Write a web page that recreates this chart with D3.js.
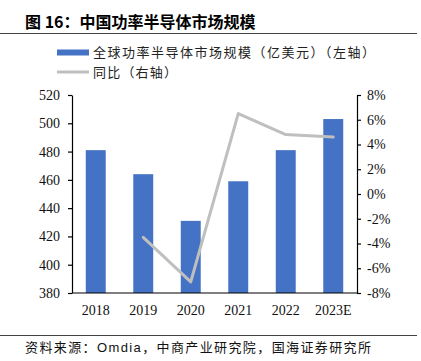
<!DOCTYPE html>
<html>
<head>
<meta charset="utf-8">
<script src="https://cdn.jsdelivr.net/npm/d3@7"></script>
<style>
  body { margin: 0; background: #fff; }
  svg { display: block; }
</style>
</head>
<body>
<div id="chart"></div>
<script>
// data
var years = ["2018", "2019", "2020", "2021", "2022", "2023E"];
var marketSize = [481, 464, 431, 459, 481, 503];   // 亿美元, left axis
var yoy = [null, -3.5, -7.1, 6.5, 4.8, 4.6];       // %, right axis
var leftTicks = [380, 400, 420, 440, 460, 480, 500, 520];
var rightTicks = [-8, -6, -4, -2, 0, 2, 4, 6, 8];

var W = 421, H = 361;
var cjk = "'Noto Sans CJK SC', sans-serif";
var serif = "'Liberation Serif', 'DejaVu Serif', serif";

var svg = d3.select("#chart").append("svg")
    .attr("width", W)
    .attr("height", H);

// title + rule
svg.append("text")
    .attr("x", 25)
    .attr("y", 28)
    .style("font-family", cjk)
    .style("font-weight", "bold")
    .style("font-size", "16px")
    .style("fill", "#000")
    .text("图 16：中国功率半导体市场规模");

svg.append("line")
    .attr("x1", 0).attr("x2", 417)
    .attr("y1", 33.5).attr("y2", 33.5)
    .style("stroke", "#444")
    .style("stroke-width", 1.2);

// legend
var leg = svg.append("g");
leg.append("rect")
    .attr("x", 57).attr("y", 49.5)
    .attr("width", 32).attr("height", 6)
    .style("fill", "#4472C4");
leg.append("text")
    .attr("x", 93).attr("y", 57)
    .attr("textLength", 282)
    .attr("lengthAdjust", "spacing")
    .style("font-family", cjk)
    .style("font-size", "13px")
    .style("fill", "#222")
    .text("全球功率半导体市场规模（亿美元）（左轴）");
leg.append("line")
    .attr("x1", 57).attr("x2", 89)
    .attr("y1", 72).attr("y2", 72)
    .style("stroke", "#BFBFBF")
    .style("stroke-width", 3);
leg.append("text")
    .attr("x", 93).attr("y", 77)
    .attr("textLength", 84)
    .attr("lengthAdjust", "spacing")
    .style("font-family", cjk)
    .style("font-size", "13px")
    .style("fill", "#222")
    .text("同比（右轴）");

// plot area
var plotL = 72, plotR = 357, plotT = 95, plotB = 293;

var x = d3.scaleBand()
    .domain(years)
    .range([plotL, plotR])
    .paddingInner(0.58)
    .paddingOuter(0.29);

var yL = d3.scaleLinear().domain([380, 520]).range([plotB, plotT]);
var yR = d3.scaleLinear().domain([-8, 8]).range([plotB, plotT]);

svg.selectAll(".bar")
    .data(marketSize)
    .enter().append("rect")
    .attr("class", "bar")
    .attr("x", function(d, i) { return x(years[i]); })
    .attr("width", x.bandwidth())
    .attr("y", function(d) { return yL(d); })
    .attr("height", function(d) { return plotB - yL(d); })
    .style("fill", "#4472C4");

var line = d3.line()
    .defined(function(d) { return d != null; })
    .x(function(d, i) { return x(years[i]) + x.bandwidth() / 2; })
    .y(function(d) { return yR(d); });

svg.append("path")
    .datum(yoy)
    .attr("d", line)
    .style("fill", "none")
    .style("stroke", "#BFBFBF")
    .style("stroke-width", 3)
    .style("stroke-linejoin", "round")
    .style("stroke-linecap", "round");

// axes
var axL = svg.append("g")
    .attr("transform", "translate(" + plotL + ",0)")
    .call(d3.axisLeft(yL).tickValues(leftTicks).tickSize(4).tickSizeOuter(0).tickPadding(8));

var axR = svg.append("g")
    .attr("transform", "translate(" + plotR + ",0)")
    .call(d3.axisRight(yR).tickValues(rightTicks).tickSize(4).tickSizeOuter(0).tickPadding(6)
        .tickFormat(function(d) { return d + "%"; }));

var axB = svg.append("g")
    .attr("transform", "translate(0," + plotB + ")")
    .call(d3.axisBottom(x).tickSize(0).tickPadding(12));

[axL, axR, axB].forEach(function(ax) {
    ax.selectAll("path, line").style("stroke", "#000").style("stroke-width", 1.2);
    ax.selectAll("text")
        .style("font-family", serif)
        .style("font-size", "14px")
        .style("fill", "#111");
});
axB.select(".domain").attr("d", "M" + plotL + ",0H" + plotR);

// footer
svg.append("line")
    .attr("x1", 0).attr("x2", 417)
    .attr("y1", 335.5).attr("y2", 335.5)
    .style("stroke", "#444")
    .style("stroke-width", 1.2);

var src = svg.append("text")
    .attr("x", 25).attr("y", 352)
    .attr("textLength", 346)
    .attr("lengthAdjust", "spacing")
    .style("font-size", "13px")
    .style("fill", "#111");
src.append("tspan").style("font-family", cjk).text("资料来源：");
src.append("tspan").style("font-family", "'Liberation Sans', Arial, sans-serif").text("Omdia");
src.append("tspan").style("font-family", cjk).text("，中商产业研究院，国海证券研究所");
</script>
</body>
</html>
